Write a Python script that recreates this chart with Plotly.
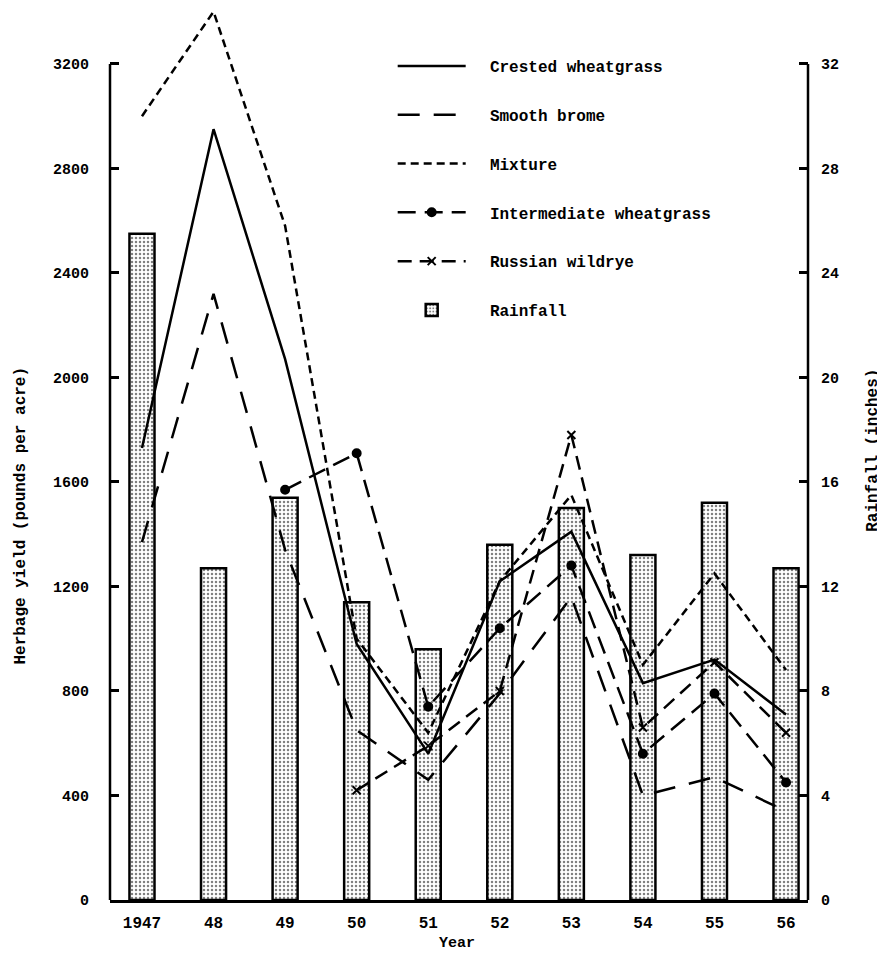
import plotly.graph_objects as go

# ---------------- data ----------------
years = [1947, 1948, 1949, 1950, 1951, 1952, 1953, 1954, 1955, 1956]
year_labels = ["1947", "48", "49", "50", "51", "52", "53", "54", "55", "56"]

rainfall_in = [25.5, 12.7, 15.4, 11.4, 9.6, 13.6, 15.0, 13.2, 15.2, 12.7]

crested_wheatgrass = [1730, 2950, 2070, 980, 560, 1220, 1410, 830, 920, 710]
smooth_brome = [1370, 2320, 1340, 650, 460, 790, 1160, 400, 470, 340]
mixture = [3000, 3400, 2580, 1000, 640, 1220, 1550, 900, 1250, 880]

intermediate_years = [1949, 1950, 1951, 1952, 1953, 1954, 1955, 1956]
intermediate_wheatgrass = [1570, 1710, 740, 1040, 1280, 560, 790, 450]

russian_years = [1950, 1951, 1952, 1953, 1954, 1955, 1956]
russian_wildrye = [420, 590, 800, 1780, 660, 910, 640]

left_ticks = [0, 400, 800, 1200, 1600, 2000, 2400, 2800, 3200]
right_ticks = [0, 4, 8, 12, 16, 20, 24, 28, 32]

# ---------------- style ----------------
FONT = "Liberation Mono"
INK = "black"
PAD = "\u00a0\u00a0"

fig = go.Figure()

fig.add_trace(go.Bar(
    x=years, y=rainfall_in, yaxis="y", name=PAD + "Rainfall",
    width=0.35, legendrank=6, legendgroup="g6",
    marker=dict(color="white", line=dict(color=INK, width=2.5),
                pattern=dict(shape=".", fgcolor=INK, bgcolor="white",
                             size=4, solidity=0.3)),
))

line_specs = [
    ("Crested wheatgrass", years, crested_wheatgrass, "solid", None, 1),
    ("Smooth brome", years, smooth_brome, "22px,14px", None, 2),
    ("Mixture", years, mixture, "8px,5px", None, 3),
    ("Intermediate wheatgrass", intermediate_years, intermediate_wheatgrass,
     "18px,9px", "circle", 4),
    ("Russian wildrye", russian_years, russian_wildrye, "14px,8px", "x-thin", 5),
]
for name, xs, ys, dash, sym, rank in line_specs:
    fig.add_trace(go.Scatter(
        x=xs, y=ys, yaxis="y2", name=PAD + name,
        mode="lines+markers" if sym else "lines",
        line=dict(color=INK, width=2.5, dash=dash),
        marker=dict(symbol=sym or "circle", size=8, color=INK,
                    line=dict(color=INK, width=2)),
        legendrank=rank, legendgroup=f"g{rank}",
    ))

tick_font = dict(family=FONT, size=15, color=INK, weight="bold")

fig.update_layout(
    width=877, height=948,
    margin=dict(l=102, r=77, t=0, b=56),
    paper_bgcolor="white", plot_bgcolor="white",
    showlegend=True,
    legend=dict(
        x=0.405, xanchor="left", y=0.954, yanchor="top",
        font=dict(family=FONT, size=16, color=INK, weight="bold"),
        itemwidth=68, tracegroupgap=25, traceorder="grouped",
        bgcolor="rgba(0,0,0,0)",
    ),
    xaxis=dict(
        range=[1946.553, 1956.307], tickmode="array",
        tickvals=years, ticktext=year_labels,
        showline=True, linecolor=INK, linewidth=2.5,
        ticks="", showgrid=False, zeroline=False,
        tickfont=dict(family=FONT, size=16, color=INK, weight="bold"),
        ticklabelstandoff=6,
    ),
    yaxis=dict(
        side="right", range=[0, 34.14], tickmode="array", tickvals=right_ticks,
        ticks="inside", ticklen=9, tickwidth=2.5, tickcolor=INK,
        showline=False, showgrid=False, zeroline=False,
        tickfont=tick_font, ticklabelstandoff=12,
    ),
    yaxis2=dict(
        side="left", overlaying="y", range=[0, 3414], tickmode="array",
        tickvals=left_ticks,
        ticks="inside", ticklen=9, tickwidth=2.5, tickcolor=INK,
        showline=False, showgrid=False, zeroline=False,
        tickfont=tick_font, ticklabelstandoff=20,
    ),
    shapes=[
        dict(type="line", xref="paper", x0=0, x1=0, yref="y2", y0=0, y1=3200,
             line=dict(color=INK, width=2.5)),
        dict(type="line", xref="paper", x0=1, x1=1, yref="y", y0=0, y1=32,
             line=dict(color=INK, width=2.5)),
    ],
    annotations=[
        dict(text="Herbage yield (pounds per acre)", textangle=-90,
             xref="paper", x=-0.128, xanchor="center",
             yref="y2", y=1470, yanchor="middle", showarrow=False,
             font=dict(family=FONT, size=16, color=INK, weight="bold")),
        dict(text="Rainfall (inches)", textangle=-90,
             xref="paper", x=1.092, xanchor="center",
             yref="y", y=17.2, yanchor="middle", showarrow=False,
             font=dict(family=FONT, size=16, color=INK, weight="bold")),
        dict(text="Year", xref="x", x=1951.4, yref="paper", y=-0.049,
             yanchor="middle", showarrow=False,
             font=dict(family=FONT, size=15, color=INK, weight="bold")),
    ],
)

fig.write_html("out.html")
